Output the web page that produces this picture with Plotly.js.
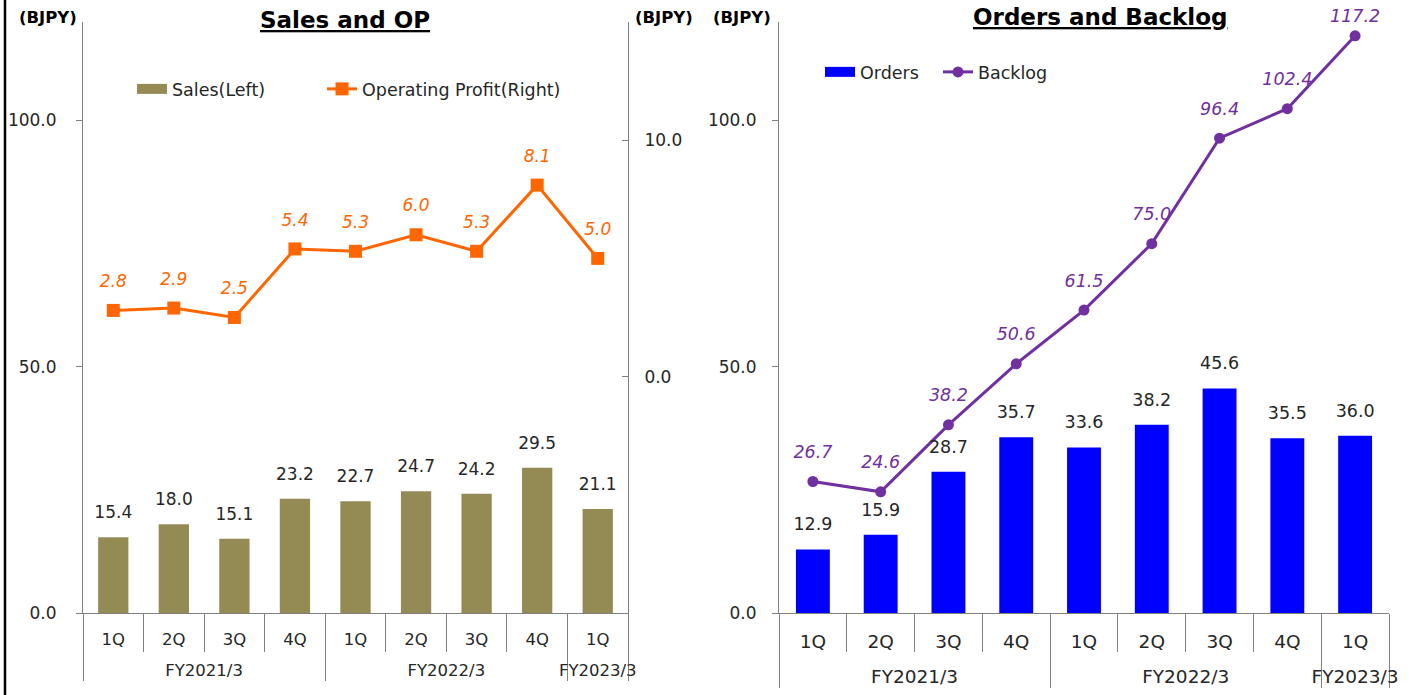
<!DOCTYPE html>
<html><head><meta charset="utf-8">
<script src="https://cdn.plot.ly/plotly-3.0.1.min.js"></script>
<style>html,body{margin:0;padding:0;background:#fff}</style>
</head><body><div id="chart" style="width:1409px;height:695px"></div>
<script>
const fiscalYears = ['FY2021/3','FY2021/3','FY2021/3','FY2021/3','FY2022/3','FY2022/3','FY2022/3','FY2022/3','FY2023/3'];
const quarters = ['1Q','2Q','3Q','4Q','1Q','2Q','3Q','4Q','1Q'];
const sales = [15.4, 18.0, 15.1, 23.2, 22.7, 24.7, 24.2, 29.5, 21.1];
const operatingProfit = [2.8, 2.9, 2.5, 5.4, 5.3, 6.0, 5.3, 8.1, 5.0];
const orders = [12.9, 15.9, 28.7, 35.7, 33.6, 38.2, 45.6, 35.5, 36.0];
const backlog = [26.7, 24.6, 38.2, 50.6, 61.5, 75.0, 96.4, 102.4, 117.2];
const leftTicks = [0, 50, 100];
const rightTicks = [0, 10];

const W = 1409, H = 695;
const FONT = 'DejaVu Sans, Verdana, sans-serif';
const TXT = '#262626';
const AX = '#808080';
// inner labels get an empty second line so the fiscal-year row sits lower, as in the reference
const x = [fiscalYears, quarters.map(q => q + '<br>\u00a0')];
const fmt = a => a.map(v => v.toFixed(1));
const labelGap = (n, g, last) => Array.from({length:n}, (_, i) => i === n - 1 && last ? last : g);

const olive = '#948A54', orange = '#FF6600', blue = '#0000FF', purple = '#7030A0';
const none = [null];

const traces = [
  {type:'bar', x:x, y:sales, xaxis:'x', yaxis:'y', marker:{color:olive}, showlegend:false},
  {type:'scatter', mode:'lines', x:none, y:none, xaxis:'x', yaxis:'y', name:'Sales(Left)', line:{color:olive, width:13}, legend:'legend'},
  {type:'scatter', mode:'lines+markers', x:x, y:operatingProfit, xaxis:'x', yaxis:'y2', name:'Operating Profit(Right)',
   line:{color:orange, width:3}, marker:{symbol:'square', size:13, color:orange}, legend:'legend2'},
  {type:'scatter', mode:'markers+text', x:x, y:sales, xaxis:'x', yaxis:'y', text:fmt(sales), textposition:'top center', cliponaxis:false,
   marker:{size:22, opacity:0}, textfont:{family:FONT, size:17, color:TXT}, showlegend:false},
  {type:'scatter', mode:'markers+text', x:x, y:operatingProfit, xaxis:'x', yaxis:'y2', text:fmt(operatingProfit), textposition:'top center', cliponaxis:false,
   marker:{size:29, opacity:0}, textfont:{family:FONT, size:17, color:orange, style:'italic'}, showlegend:false},

  {type:'bar', x:x, y:orders, xaxis:'x2', yaxis:'y3', marker:{color:blue}, showlegend:false},
  {type:'scatter', mode:'lines', x:none, y:none, xaxis:'x2', yaxis:'y3', name:'Orders', line:{color:blue, width:13}, legend:'legend3'},
  {type:'scatter', mode:'lines+markers', x:x, y:backlog, xaxis:'x2', yaxis:'y3', name:'Backlog',
   line:{color:purple, width:3}, marker:{symbol:'circle', size:11, color:purple}, legend:'legend4'},
  {type:'scatter', mode:'markers+text', x:x, y:orders, xaxis:'x2', yaxis:'y3', text:fmt(orders), textposition:'top center', cliponaxis:false,
   marker:{size:22, opacity:0}, textfont:{family:FONT, size:17.5, color:TXT}, showlegend:false},
  {type:'scatter', mode:'markers+text', x:x, y:backlog, xaxis:'x2', yaxis:'y3', text:fmt(backlog), textposition:'top center', cliponaxis:false,
   marker:{size:labelGap(backlog.length, 29, 14), opacity:0}, textfont:{family:FONT, size:17.5, color:purple, style:'italic'}, showlegend:false}
];

const yDom = [1 - 613/H, 1 - 22/H];
const xAxisCommon = {
  type:'multicategory', range:[-0.5, 8.5], showline:true, linecolor:AX, linewidth:1,
  ticks:'outside', ticklen:38, tickcolor:AX, tickwidth:1, tickson:'boundaries',
  showdividers:true, dividercolor:AX, dividerwidth:1,
  showgrid:false, zeroline:false, fixedrange:true
};
const yAxisCommon = {
  range:[0,120], tickvals:leftTicks, tickformat:'.1f', ticks:'outside', ticklen:6, tickcolor:AX,
  showline:true, linecolor:AX, linewidth:1, showgrid:false, zeroline:false,
  tickfont:{family:FONT, size:17, color:TXT}, fixedrange:true
};
const legendAt = (px, py) => ({orientation:'h', xanchor:'left', yanchor:'middle', x:px/W, y:1-py/H,
  font:{family:FONT, size:17.5, color:TXT}, bgcolor:'rgba(0,0,0,0)', borderwidth:0});
const ann = (text, px, py, size) => ({text:text, xref:'paper', yref:'paper', x:px/W, y:1-py/H, xanchor:'center', yanchor:'middle',
  showarrow:false, font:{family:FONT, size:size, color:'#000', weight:'bold'}});

const layout = {
  width:W, height:H, margin:{l:0, r:0, t:0, b:0},
  paper_bgcolor:'#fff', plot_bgcolor:'rgba(0,0,0,0)',
  bargap:0.5, showlegend:true, hovermode:false,
  font:{family:FONT, color:TXT},
  xaxis: Object.assign({}, xAxisCommon, {domain:[83/W, 628/W], anchor:'y', ticklabelstandoff:11,
         tickfont:{family:FONT, size:16.5, color:TXT}}),
  yaxis: Object.assign({}, yAxisCommon, {domain:yDom, anchor:'x', ticklabelstandoff:16}),
  yaxis2: {overlaying:'y', side:'right', anchor:'x', range:[-10,15], tickvals:rightTicks, tickformat:'.1f',
           ticks:'inside', ticklen:6, tickcolor:AX, showline:true, linecolor:AX, linewidth:1,
           showgrid:false, zeroline:false, tickfont:{family:FONT, size:17, color:TXT}, ticklabelstandoff:12, fixedrange:true},
  xaxis2: Object.assign({}, xAxisCommon, {domain:[779/W, 1389/W], anchor:'y3', ticklabelstandoff:12,
         tickfont:{family:FONT, size:18.5, color:TXT}}),
  yaxis3: Object.assign({}, yAxisCommon, {domain:yDom, anchor:'x2', ticklabelstandoff:12}),
  legend: legendAt(132, 89),
  legend2: legendAt(322, 89),
  legend3: legendAt(820, 72),
  legend4: legendAt(938, 72),
  annotations: [
    Object.assign(ann('Sales and OP', 345, 20, 23), {font:{family:FONT, size:23, color:'#000', weight:'bold', lineposition:'under'}}),
    Object.assign(ann('Orders and Backlog', 1100, 17, 23), {font:{family:FONT, size:23, color:'#000', weight:'bold', lineposition:'under'}}),
    ann('(BJPY)', 48, 17, 16.5),
    ann('(BJPY)', 664, 17, 16.5),
    ann('(BJPY)', 742, 17, 16.5)
  ],
  shapes: [
    {type:'line', xref:'paper', yref:'paper', x0:5/W, x1:5/W, y0:0, y1:1, line:{color:'#000', width:2.5}}
  ]
};

Plotly.newPlot('chart', traces, layout, {displayModeBar:false, staticPlot:true});
</script>
</body></html>
